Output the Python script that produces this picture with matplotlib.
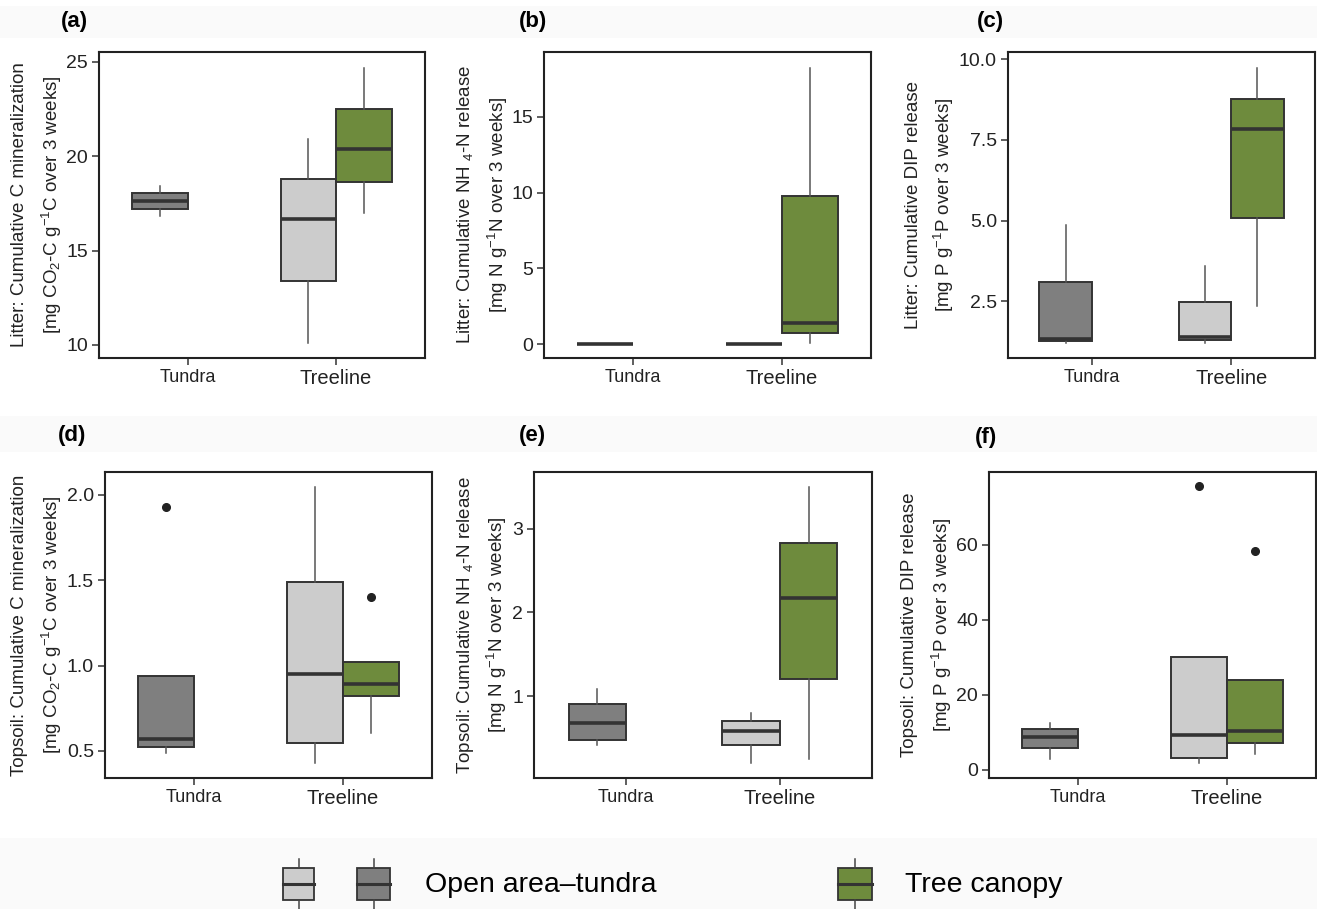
import matplotlib
matplotlib.use("Agg")
import matplotlib.pyplot as plt
from matplotlib.patches import Rectangle

plt.rcParams['font.family'] = ['Liberation Sans', 'DejaVu Sans']
plt.rcParams['mathtext.fontset'] = 'custom'
plt.rcParams['mathtext.rm'] = 'Liberation Sans'
plt.rcParams['mathtext.it'] = 'Liberation Sans'

# ---------------- data (whislo, q1, median, q3, whishi) ----------------
categories = ["Tundra", "Treeline"]
groups = ["Open area\u2013tundra", "Tree canopy"]

# (a) Litter C mineralization
a_tundra_open = [16.84, 17.23, 17.63, 18.06, 18.43]
a_treeline_open = [10.09, 13.39, 16.70, 18.78, 20.90]
a_treeline_canopy = [16.97, 18.64, 20.37, 22.52, 24.67]
a_outliers = [[], [], []]

# (b) Litter NH4-N release
b_tundra_open = [0.05, 0.05, 0.05, 0.05, 0.05]
b_treeline_open = [0.05, 0.05, 0.05, 0.05, 0.05]
b_treeline_canopy = [0.07, 0.76, 1.38, 9.77, 18.22]
b_outliers = [[], [], []]

# (c) Litter DIP release
c_tundra_open = [1.22, 1.28, 1.32, 3.09, 4.86]
c_treeline_open = [1.22, 1.30, 1.40, 2.49, 3.59]
c_treeline_canopy = [2.35, 5.09, 7.83, 8.77, 9.72]
c_outliers = [[], [], []]

# (d) Topsoil C mineralization
d_tundra_open = [0.49, 0.523, 0.573, 0.94, 0.94]
d_treeline_open = [0.432, 0.547, 0.95, 1.486, 2.044]
d_treeline_canopy = [0.605, 0.819, 0.893, 1.023, 1.023]
d_outliers = [[1.93], [], [1.40]]

# (e) Topsoil NH4-N release
e_tundra_open = [0.419, 0.478, 0.677, 0.905, 1.09]
e_treeline_open = [0.203, 0.41, 0.578, 0.70, 0.797]
e_treeline_canopy = [0.247, 1.208, 2.167, 2.826, 3.497]
e_outliers = [[], [], []]

# (f) Topsoil DIP release
f_tundra_open = [2.93, 5.78, 8.71, 10.84, 12.53]
f_treeline_open = [1.87, 3.2, 9.33, 29.95, 29.95]
f_treeline_canopy = [4.27, 7.2, 10.2, 24.0, 24.0]
f_outliers = [[], [75.5], [58.4]]

panel_letters = ["(a)", "(b)", "(c)", "(d)", "(e)", "(f)"]
ylabels = [
    "Litter: Cumulative C mineralization\n[mg CO$_2$-C g$^{-1}$C over 3 weeks]",
    "Litter: Cumulative NH $_4$-N release\n[mg N g$^{-1}$N over 3 weeks]",
    "Litter: Cumulative DIP release\n[mg P g$^{-1}$P over 3 weeks]",
    "Topsoil: Cumulative C mineralization\n[mg CO$_2$-C g$^{-1}$C over 3 weeks]",
    "Topsoil: Cumulative NH $_4$-N release\n[mg N g$^{-1}$N over 3 weeks]",
    "Topsoil: Cumulative DIP release\n[mg P g$^{-1}$P over 3 weeks]",
]
yticks = [[10, 15, 20, 25], [0, 5, 10, 15], [2.5, 5.0, 7.5, 10.0],
          [0.5, 1.0, 1.5, 2.0], [1, 2, 3], [0, 20, 40, 60]]
ytick_fmt = ["{:.0f}", "{:.0f}", "{:.1f}", "{:.1f}", "{:.0f}", "{:.0f}"]
ylims = [(9.31, 25.53), (-0.9, 19.26), (0.745, 10.22),
         (0.342, 2.132), (0.02, 3.68), (-2.24, 79.36)]

panels = [
    (a_tundra_open, a_treeline_open, a_treeline_canopy, a_outliers),
    (b_tundra_open, b_treeline_open, b_treeline_canopy, b_outliers),
    (c_tundra_open, c_treeline_open, c_treeline_canopy, c_outliers),
    (d_tundra_open, d_treeline_open, d_treeline_canopy, d_outliers),
    (e_tundra_open, e_treeline_open, e_treeline_canopy, e_outliers),
    (f_tundra_open, f_treeline_open, f_treeline_canopy, f_outliers),
]

# ---------------- style ----------------
W, H = 1317, 909
col_tundra = "#7F7F7F"
col_open = "#CCCCCC"
col_canopy = "#6E8B3D"
edge = "#333333"

fig = plt.figure(figsize=(W / 100, H / 100), dpi=100)
fig.patch.set_facecolor("white")

# faint background bands
bg = fig.add_axes([0, 0, 1, 1], zorder=-10)
bg.set_xlim(0, W)
bg.set_ylim(H, 0)
bg.axis("off")
for (y0, y1) in [(6, 38), (416, 452), (838, 909)]:
    bg.add_patch(Rectangle((0, y0), W, y1 - y0, color="#FAFAFA", lw=0))

# axes frames in pixels: x0, y0, x1, y1
frames = [(99, 52, 425, 358), (544, 52, 871, 358), (1008, 52, 1315, 358),
          (105, 472, 432, 778), (534, 472, 872, 778), (989, 472, 1316, 778)]
letter_pos = [(74, 22), (533, 22), (990, 22), (72, 436), (532, 436), (986, 437)]
ylabel_x = [(20, 52), (465, 498), (913, 944), (20, 52), (465, 497), (910, 942)]

dodge = 0.1875
bw = 0.375

for i, (fr, pdata) in enumerate(zip(frames, panels)):
    x0, y0, x1, y1 = fr
    ax = fig.add_axes([x0 / W, 1 - y1 / H, (x1 - x0) / W, (y1 - y0) / H])
    t_open, tr_open, tr_can, outl = pdata
    summaries = [t_open, tr_open, tr_can]
    positions = [1 - dodge, 2 - dodge, 2 + dodge]
    colors = [col_tundra, col_open, col_canopy]
    stats = []
    for s, o in zip(summaries, outl):
        stats.append(dict(whislo=s[0], q1=s[1], med=s[2], q3=s[3], whishi=s[4], fliers=o))
    bp = ax.bxp(stats, positions=positions, widths=bw, patch_artist=True,
                showcaps=False, manage_ticks=False,
                boxprops=dict(edgecolor=edge, linewidth=1.4),
                medianprops=dict(color=edge, linewidth=2.6, solid_capstyle="butt"),
                whiskerprops=dict(color="#555555", linewidth=1.1),
                flierprops=dict(marker="o", markersize=5.5, markerfacecolor="#222222",
                                markeredgecolor="#222222"))
    for patch, c in zip(bp["boxes"], colors):
        patch.set_facecolor(c)
    ax.set_xlim(0.4, 2.6)
    ax.set_ylim(*ylims[i])
    ax.set_xticks([1, 2])
    ax.set_xticklabels(categories)
    xl = ax.get_xticklabels()
    xl[0].set_fontsize(13)
    xl[1].set_fontsize(14.5)
    ax.set_yticks(yticks[i])
    ax.set_yticklabels([ytick_fmt[i].format(v) for v in yticks[i]], fontsize=14)
    ax.tick_params(direction="out", length=5, width=1.1, color="#333333",
                   labelcolor="#222222", pad=3)
    for sp in ax.spines.values():
        sp.set_linewidth(1.5)
        sp.set_color("#222222")
    # panel letter
    lx, ly = letter_pos[i]
    fig.text(lx / W, 1 - ly / H, panel_letters[i], fontsize=16, fontweight="bold",
             ha="center", va="center")
    # y label (two lines)
    l1, l2 = ylabels[i].split("\n")
    yc = (y0 + y1) / 2
    fig.text(ylabel_x[i][0] / W, 1 - yc / H, l1, rotation=90, fontsize=13.5,
             ha="center", va="center", color="#222222")
    fig.text(ylabel_x[i][1] / W, 1 - yc / H, l2, rotation=90, fontsize=13.5,
             ha="center", va="center", color="#222222")

# ---------------- legend ----------------
leg = fig.add_axes([0, 0, 1, 1], zorder=5)
leg.set_xlim(0, W)
leg.set_ylim(H, 0)
leg.axis("off")
keys = [(283, 314, col_open), (357, 390, col_tundra), (838, 872, col_canopy)]
for (kx0, kx1, c) in keys:
    xm = (kx0 + kx1) / 2
    leg.plot([xm, xm], [859, 868], color="#444444", lw=1.1)
    leg.plot([xm, xm], [900, 909], color="#444444", lw=1.1)
    leg.add_patch(Rectangle((kx0, 868), kx1 - kx0, 32, facecolor=c, edgecolor=edge, lw=1.3))
    leg.plot([kx0, kx1], [884, 884], color=edge, lw=2.2)
leg.text(425, 885, groups[0], fontsize=20.5, va="center", ha="left")
leg.text(905, 885, groups[1], fontsize=20.5, va="center", ha="left")

fig.savefig("out.png", dpi=100)
